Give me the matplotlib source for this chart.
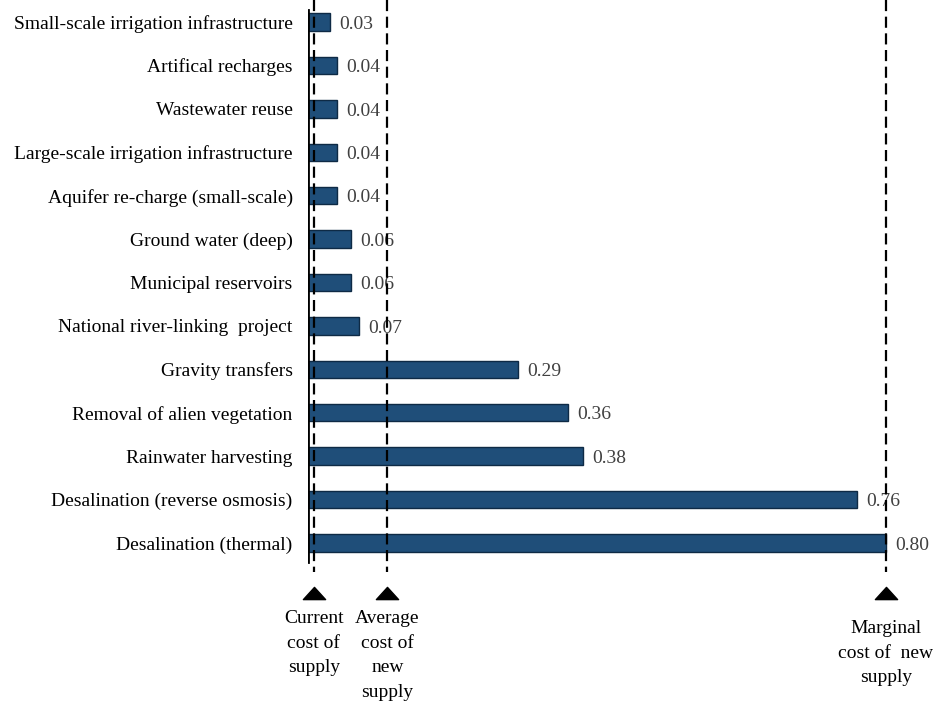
import matplotlib.pyplot as plt
from matplotlib.path import Path

plt.rcParams['font.family'] = ['Liberation Serif', 'DejaVu Serif']

# unit cost of water supply options, top row first
options = [
    "Small-scale irrigation infrastructure",
    "Artifical recharges",
    "Wastewater reuse",
    "Large-scale irrigation infrastructure",
    "Aquifer re-charge (small-scale)",
    "Ground water (deep)",
    "Municipal reservoirs",
    "National river-linking  project",
    "Gravity transfers",
    "Removal of alien vegetation",
    "Rainwater harvesting",
    "Desalination (reverse osmosis)",
    "Desalination (thermal)",
]
costs = [0.03, 0.04, 0.04, 0.04, 0.04, 0.06, 0.06, 0.07, 0.29, 0.36, 0.38, 0.76, 0.80]

# benchmark costs shown as dashed markers
ref_costs = [0.008, 0.11, 0.80]
ref_labels = ["Current\ncost of\nsupply", "Average\ncost of\nnew\nsupply", "Marginal\ncost of  new\nsupply"]

bar_color = "#1f4e79"

# wide triangle for the markers under the dashed lines
flat_tri = Path([(-1, -0.55), (1, -0.55), (0, 0.55), (-1, -0.55)], closed=True)

fig = plt.figure(figsize=(9.46, 7.01), dpi=100)
ax = fig.add_axes([308 / 946, 0, 638 / 946, 1])

rows = list(range(len(options)))
ax.barh(rows, costs, height=0.4, color=bar_color, edgecolor="#0e2a45", linewidth=1, zorder=2)
for r, c in zip(rows, costs):
    ax.text(c + 0.013, r + 0.05, f"{c:.2f}", va="center", ha="left", fontsize=14, color="#404040")

ax.set_xlim(0, 0.883)
ax.set_ylim(15.64, -0.507)
ax.set_yticks(rows)
ax.set_yticklabels(options, fontsize=14)
ax.tick_params(axis="y", length=0, pad=11)
ax.set_xticks([])
for s in ax.spines.values():
    s.set_visible(False)

# vertical axis line
ax.plot([0, 0], [-0.28, 12.44], color="black", lw=2, zorder=3)

for i, (x, lab) in enumerate(zip(ref_costs, ref_labels)):
    ax.plot([x, x], [-0.507, 12.67], color="black", lw=1.6, ls=(0, (5, 2.5)), zorder=4)
    ax.plot(x, 13.15, marker=flat_tri, ms=16, color="black", clip_on=False)
    ytop = 13.55 if i < 2 else 13.78
    ax.text(x, ytop, lab, ha="center", va="top", fontsize=14, linespacing=1.58)

fig.savefig("out.png", dpi=100)
